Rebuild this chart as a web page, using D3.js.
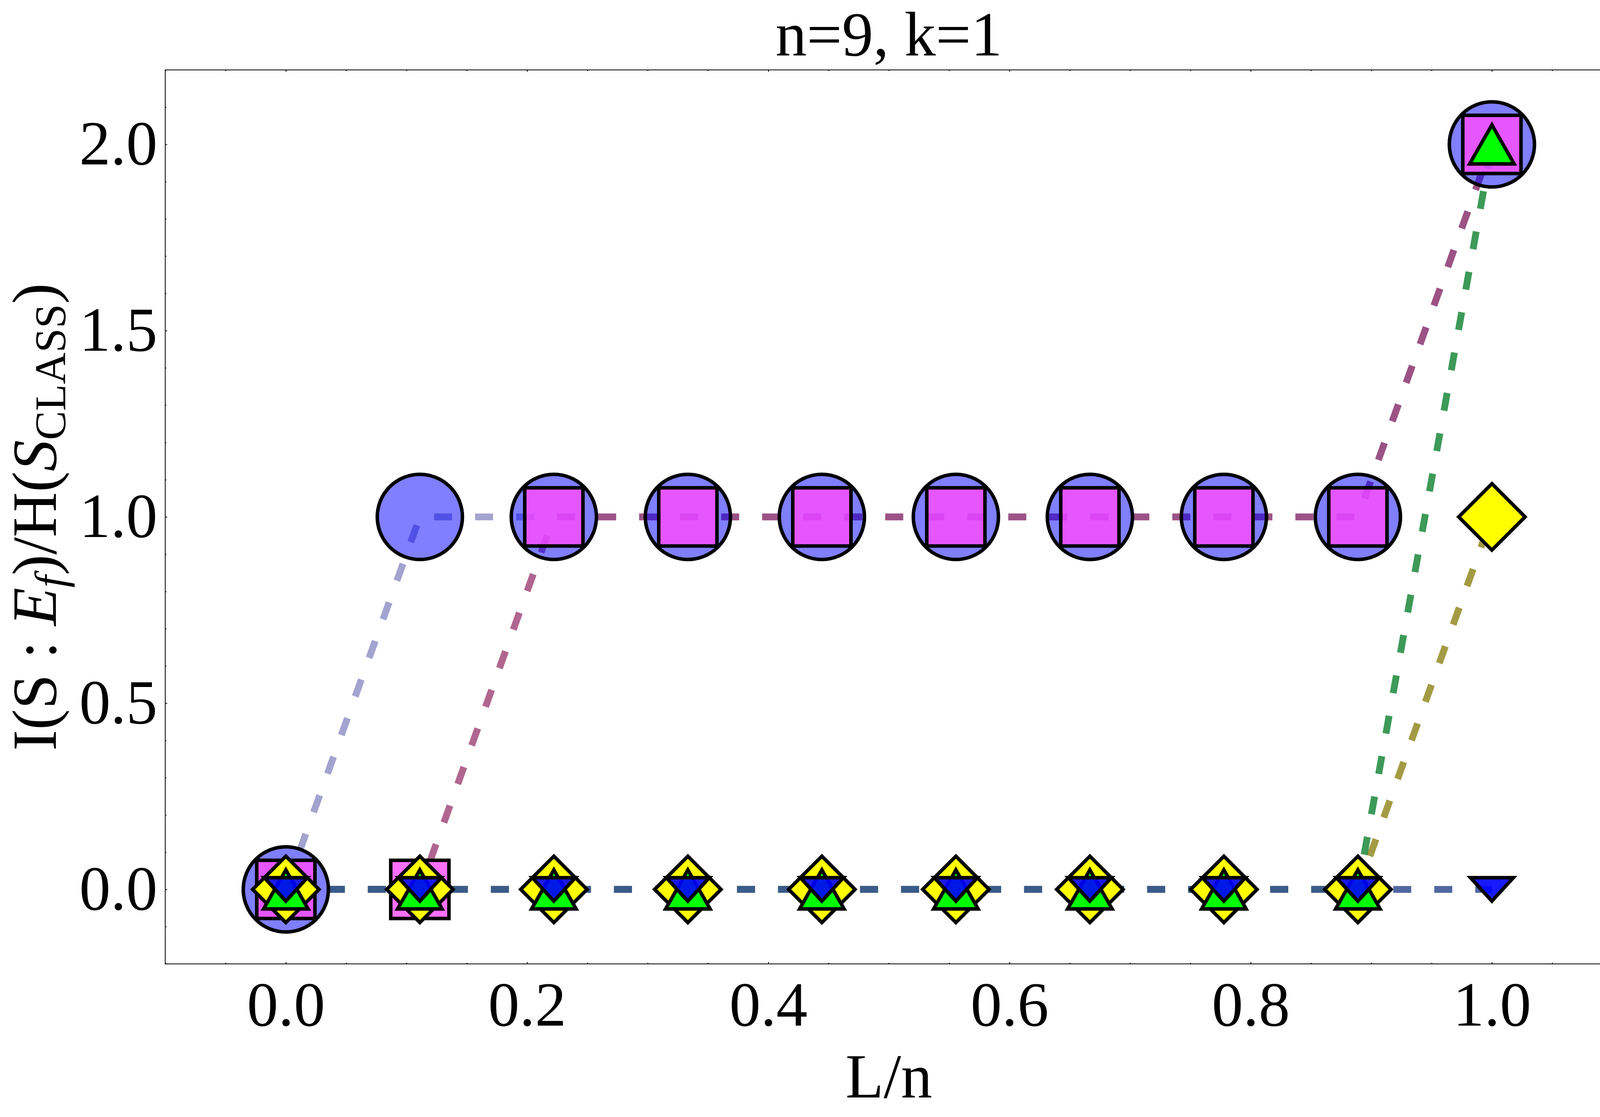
<!DOCTYPE html>
<html lang="en">
<head>
<meta charset="UTF-8">
<title>n=9, k=1</title>
<script src="https://cdn.jsdelivr.net/npm/d3@7"></script>
<style>
  body { margin: 0; background: #fff; }
  svg { display: block; }
  text { font-family: "Liberation Serif", "Times New Roman", serif; }
</style>
</head>
<body>
<script>
// values
const n = 9;
const L = [0, 1, 2, 3, 4, 5, 6, 7, 8, 9];
const circleVals  = [0, 1, 1, 1, 1, 1, 1, 1, 1, 2];
const squareVals  = [0, 0, 1, 1, 1, 1, 1, 1, 1, 2];
const diamondVals = [0, 0, 0, 0, 0, 0, 0, 0, 0, 1];
const upVals      = [0, 0, 0, 0, 0, 0, 0, 0, 0, 2];
const downVals    = [0, 0, 0, 0, 0, 0, 0, 0, 0, 0];

const xTicks = [0, 0.2, 0.4, 0.6, 0.8, 1.0];
const yTicks = [0, 0.5, 1.0, 1.5, 2.0];

// chart size and frame
const W = 4130, H = 2860;
const plotLeft = 423, plotRight = 4128, plotTop = 179, plotBottom = 2468;

const x = d3.scaleLinear().domain([-0.1, 1.1]).range([plotLeft, plotRight]);
const y = d3.scaleLinear().domain([-0.2, 2.2]).range([plotBottom, plotTop]);

const svg = d3.select('body').append('svg')
    .attr('width', W)
    .attr('height', H);

svg.append('rect').attr('width', W).attr('height', H).attr('fill', '#fff');

// marker shapes, drawn around (0,0)
const sw = 9;
function trianglePath(w, h, up) {
    const p = d3.path();
    const s = up ? 1 : -1;
    p.moveTo(0, -s * h / 2);
    p.lineTo(w / 2, s * h / 2);
    p.lineTo(-w / 2, s * h / 2);
    p.closePath();
    return p.toString();
}
function diamondPath(r) {
    const p = d3.path();
    p.moveTo(0, -r); p.lineTo(r, 0); p.lineTo(0, r); p.lineTo(-r, 0); p.closePath();
    return p.toString();
}
function squarePath(s) {
    const p = d3.path();
    p.rect(-s / 2, -s / 2, s, s);
    return p.toString();
}
function circlePath(r) {
    const p = d3.path();
    p.arc(0, 0, r, 0, 2 * Math.PI);
    p.closePath();
    return p.toString();
}

const series = [
    { values: circleVals,  shape: circlePath(109),              fill: '#0000ff', fop: 0.5, line: '#8989c2', lop: 0.78 },
    { values: squareVals,  shape: squarePath(149),              fill: '#ff4cff', fop: 0.8, line: '#9a3b6f', lop: 0.78 },
    { values: diamondVals, shape: diamondPath(85),              fill: '#ffff00', fop: 1,   line: '#897f10', lop: 0.78 },
    { values: upVals,      shape: trianglePath(114, 100, true), fill: '#00ff00', fop: 1,   line: '#067d29', lop: 0.78 },
    { values: downVals,    shape: trianglePath(110, 60, false), fill: '#0000ff', fop: 0.9, line: '#3d5795', lop: 0.9 }
];
series.forEach(s => {
    s.points = L.map((l, i) => ({ x: l / n, y: s.values[i] }));
});

const line = d3.line().x(d => x(d.x)).y(d => y(d.y));

// dashed joining lines first
svg.append('g').attr('class', 'lines')
    .selectAll('path')
    .data(series)
    .enter()
    .append('path')
    .attr('d', d => line(d.points))
    .attr('fill', 'none')
    .attr('stroke', d => d.line)
    .attr('stroke-opacity', d => d.lop)
    .attr('stroke-width', 17.5)
    .attr('stroke-dasharray', '46,59');

// then the markers, series by series
const marks = svg.append('g').attr('class', 'markers');
series.forEach(s => {
    marks.append('g')
        .selectAll('path')
        .data(s.points)
        .enter()
        .append('path')
        .attr('d', s.shape)
        .attr('transform', d => `translate(${x(d.x)},${y(d.y)})`)
        .attr('fill', s.fill)
        .attr('fill-opacity', s.fop)
        .attr('stroke', '#000')
        .attr('stroke-width', sw)
        .attr('stroke-linejoin', 'miter')
        .attr('stroke-miterlimit', 10);
});

// frame
svg.append('rect')
    .attr('x', plotLeft).attr('y', plotTop)
    .attr('width', plotRight - plotLeft).attr('height', plotBottom - plotTop)
    .attr('fill', 'none')
    .attr('stroke', '#000')
    .attr('stroke-width', 2);

// ticks, pointing inwards on all four sides
const xMinor = d3.range(-0.1, 1.1001, 0.05).filter(v => !xTicks.some(t => Math.abs(t - v) < 1e-6));
const yMinor = d3.range(-0.2, 2.2001, 0.1).filter(v => !yTicks.some(t => Math.abs(t - v) < 1e-6));
const fmt = d3.format('.1f');
const fontSize = 160;
const major = 5, minor = 3;

function styleAxis(g) {
    g.select('.domain').remove();
    g.selectAll('.tick line').attr('stroke', '#000').attr('stroke-width', 2);
    g.selectAll('.tick text')
        .attr('fill', '#000')
        .style('font-family', '"Liberation Serif", "Times New Roman", serif')
        .style('font-size', fontSize + 'px');
}

svg.append('g').attr('transform', `translate(0,${plotBottom})`)
    .call(d3.axisBottom(x).tickValues(xTicks).tickFormat(fmt).tickSizeInner(-major).tickSizeOuter(0).tickPadding(44))
    .call(styleAxis);
svg.append('g').attr('transform', `translate(0,${plotBottom})`)
    .call(d3.axisBottom(x).tickValues(xMinor).tickFormat('').tickSizeInner(-minor).tickSizeOuter(0))
    .call(styleAxis);
svg.append('g').attr('transform', `translate(0,${plotTop})`)
    .call(d3.axisTop(x).tickValues(xTicks).tickFormat('').tickSizeInner(-major).tickSizeOuter(0))
    .call(styleAxis);
svg.append('g').attr('transform', `translate(0,${plotTop})`)
    .call(d3.axisTop(x).tickValues(xMinor).tickFormat('').tickSizeInner(-minor).tickSizeOuter(0))
    .call(styleAxis);

svg.append('g').attr('transform', `translate(${plotLeft},0)`)
    .call(d3.axisLeft(y).tickValues(yTicks).tickFormat(fmt).tickSizeInner(-major).tickSizeOuter(0).tickPadding(20))
    .call(styleAxis);
svg.append('g').attr('transform', `translate(${plotLeft},0)`)
    .call(d3.axisLeft(y).tickValues(yMinor).tickFormat('').tickSizeInner(-minor).tickSizeOuter(0))
    .call(styleAxis);
svg.append('g').attr('transform', `translate(${plotRight},0)`)
    .call(d3.axisRight(y).tickValues(yTicks).tickFormat('').tickSizeInner(-major).tickSizeOuter(0))
    .call(styleAxis);
svg.append('g').attr('transform', `translate(${plotRight},0)`)
    .call(d3.axisRight(y).tickValues(yMinor).tickFormat('').tickSizeInner(-minor).tickSizeOuter(0))
    .call(styleAxis);

// title and axis labels
const cx = (plotLeft + plotRight) / 2;
svg.append('text')
    .attr('x', cx).attr('y', 142)
    .attr('text-anchor', 'middle')
    .style('font-size', fontSize + 'px')
    .text('n=9, k=1');

svg.append('text')
    .attr('x', cx).attr('y', 2810)
    .attr('text-anchor', 'middle')
    .style('font-size', fontSize + 'px')
    .text('L/n');

const yLabel = svg.append('text')
    .attr('transform', `translate(143,${(plotTop + plotBottom) / 2}) rotate(-90)`)
    .attr('text-anchor', 'middle')
    .style('font-size', fontSize + 'px');
yLabel.append('tspan').text('I(S : ');
yLabel.append('tspan').style('font-style', 'italic').text('E');
yLabel.append('tspan').style('font-style', 'italic').style('font-size', '112px').attr('dy', 24).text('f');
yLabel.append('tspan').attr('dy', -24).text(')/H(');
yLabel.append('tspan').style('font-style', 'italic').text('S');
yLabel.append('tspan').style('font-size', '112px').attr('dy', 24).text('CLASS');
yLabel.append('tspan').attr('dy', -24).text(')');
</script>
</body>
</html>
